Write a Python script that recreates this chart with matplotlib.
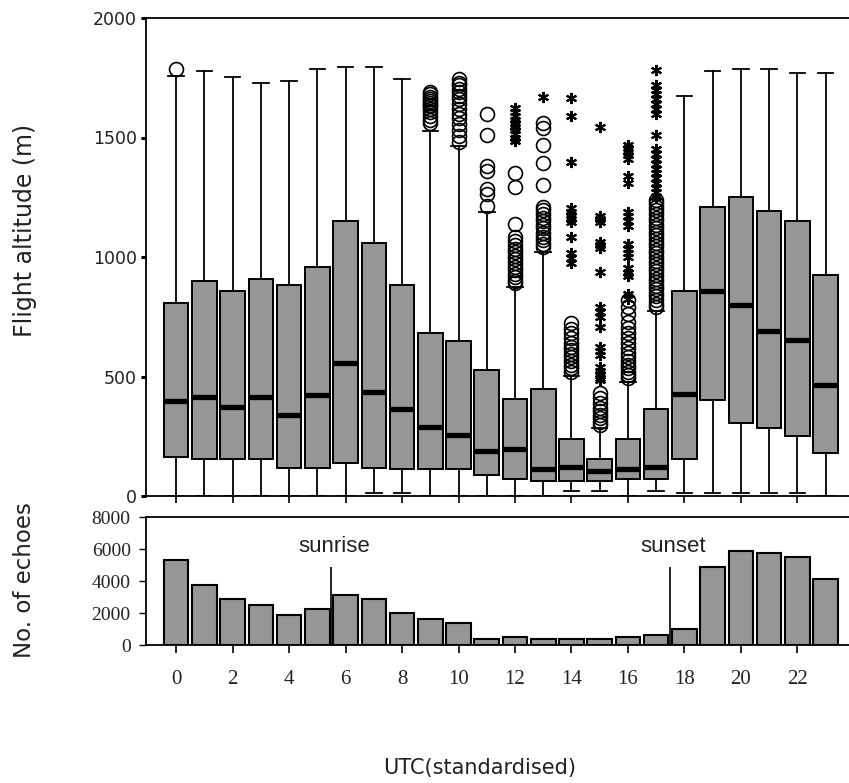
import matplotlib
matplotlib.use("Agg")
import matplotlib.pyplot as plt

# hourly flight altitude summary (m)
hours = list(range(24))
q1 = [162, 153, 153, 153, 118, 118, 139, 118, 112, 112, 112, 87,
      70, 64, 64, 64, 70, 70, 153, 402, 304, 286, 252, 179]
median = [397, 414, 372, 414, 339, 421, 556, 436, 363, 287, 254, 187,
          197, 112, 120, 106, 114, 120, 425, 859, 799, 692, 653, 464]
q3 = [809, 899, 856, 907, 883, 957, 1151, 1057, 883, 681, 649, 529,
      404, 446, 237, 153, 237, 363, 858, 1210, 1252, 1194, 1151, 925]
whisker_low = [0, 0, 0, 0, 0, 0, 0, 11, 11, 0, 0, 0,
               0, 0, 22, 22, 0, 22, 11, 11, 11, 11, 11, 0]
whisker_high = [1757, 1778, 1752, 1727, 1736, 1785, 1794, 1794, 1743, 1527, 1464, 1190,
                876, 1022, 502, 284, 478, 776, 1672, 1778, 1785, 1785, 1770, 1768]

# outliers (circles) and extreme values (stars) per hour
outliers = {
    0: [1785],
    9: [1692, 1680, 1670, 1660, 1652, 1645, 1638, 1630, 1620, 1605, 1590, 1575, 1562],
    10: [1745, 1730, 1718, 1705, 1690, 1675, 1660, 1640, 1620, 1600, 1580, 1555,
         1530, 1505, 1480],
    11: [1600, 1510, 1380, 1360, 1285, 1265, 1212],
    12: [1350, 1292, 1140, 1085, 1068, 1050, 1035, 1020, 1005, 990, 975, 960,
         945, 930, 915, 900, 890],
    13: [1560, 1540, 1470, 1392, 1300, 1210, 1195, 1180, 1165, 1150, 1135, 1120,
         1100, 1085, 1070, 1055, 1043],
    14: [722, 700, 680, 660, 640, 625, 610, 595, 580, 565, 550, 535, 520],
    15: [430, 410, 390, 370, 355, 340, 325, 310, 298],
    16: [820, 790, 760, 730, 705, 680, 660, 640, 620, 600, 580, 565, 550, 535,
         520, 505, 495],
    17: [1240, 1225, 1210, 1195, 1180, 1165, 1150, 1135, 1120, 1105, 1090, 1075,
         1060, 1045, 1030, 1015, 1000, 985, 970, 955, 940, 925, 910, 895, 880,
         865, 850, 835, 820, 805, 792],
}
extremes = {
    12: [1625, 1608, 1590, 1575, 1560, 1545, 1530, 1515, 1500, 1485],
    13: [1671],
    14: [1664, 1588, 1399, 1205, 1190, 1175, 1160, 1145, 1085, 1015, 995, 975],
    15: [1545, 1170, 1158, 1145, 1064, 1050, 1038, 938, 790, 770, 750, 708,
         625, 605, 590, 541, 525, 510, 495, 485],
    16: [1470, 1455, 1440, 1425, 1410, 1340, 1310, 1190, 1170, 1150, 1130, 1055,
         1035, 1015, 1000, 955, 935, 920, 845, 825],
    17: [1782, 1720, 1700, 1680, 1660, 1640, 1620, 1600, 1510, 1450, 1430, 1410,
         1390, 1370, 1350, 1330, 1310, 1290, 1270, 1250],
}

# number of radar echoes per hour
echoes = [5340, 3740, 2870, 2490, 1870, 2240, 3120, 2870, 1970, 1620, 1370, 370,
          520, 370, 350, 350, 500, 620, 1000, 4860, 5860, 5760, 5470, 4110]
sun_events = [5.5, 17.5]
sun_labels = ["sunrise", "sunset"]

alt_ticks = [0, 500, 1000, 1500, 2000]
echo_ticks = [0, 2000, 4000, 6000, 8000]
hour_ticks = list(range(0, 24, 2))

grey = "#969696"
ink = "#222222"
W, H = 849, 783
fig = plt.figure(figsize=(W / 100, H / 100), dpi=100)
ax = fig.add_axes([146 / W, 1 - 496 / H, 1 - 146 / W, 478 / H])
ax2 = fig.add_axes([146 / W, 1 - 645 / H, 1 - 146 / W, 128 / H])

stats = [dict(med=m, q1=a, q3=b, whislo=lo, whishi=hi, fliers=[])
         for m, a, b, lo, hi in zip(median, q1, q3, whisker_low, whisker_high)]
ax.bxp(stats, positions=hours, widths=0.87, capwidths=0.55, patch_artist=True,
       showfliers=False, manage_ticks=False,
       boxprops=dict(facecolor=grey, edgecolor="black", linewidth=1.4),
       medianprops=dict(color="black", linewidth=3.8, solid_capstyle="butt"),
       whiskerprops=dict(color="black", linewidth=1.3),
       capprops=dict(color="black", linewidth=1.3))

for h, vals in outliers.items():
    ax.plot([h] * len(vals), vals, "o", ms=10, mfc="none", mec="black", mew=1.2)
for h, vals in extremes.items():
    ax.plot([h] * len(vals), vals, ls="none", marker=(6, 2, 0), ms=8,
            mec="black", mew=1.5)

xlim = (-1.07, 23.83)
ax.set_xlim(*xlim)
ax.set_ylim(0, 2000)
ax.set_yticks(alt_ticks, labels=[str(v) for v in alt_ticks],
              family="DejaVu Sans", fontsize=12.5, color=ink)
ax.set_xticks(hour_ticks)
ax.set_xticklabels([])
ax.spines["right"].set_visible(False)
for s in ("left", "top", "bottom"):
    ax.spines[s].set_linewidth(1.3)
ax.tick_params(axis="y", direction="out", length=3.5, width=2.2, pad=3)
ax.tick_params(axis="x", direction="out", length=5, width=1.2)

ax2.bar(hours, echoes, width=0.87, color=grey, edgecolor="black", linewidth=1.5)
ax2.vlines(sun_events, 0, 4900, color="black", linewidth=1.2)
for x, label in zip(sun_events, sun_labels):
    ax2.text(x + 0.1, 6150, label, ha="center", va="center", fontsize=16,
             family="Liberation Sans", color=ink)
ax2.set_xlim(*xlim)
ax2.set_ylim(0, 8000)
ax2.set_yticks(echo_ticks, labels=[str(v) for v in echo_ticks],
               family="Liberation Serif", fontsize=14, color=ink)
ax2.set_xticks(hour_ticks, labels=[str(v) for v in hour_ticks],
               family="Liberation Serif", fontsize=15, color=ink)
ax2.spines["right"].set_visible(False)
for s in ("left", "top", "bottom"):
    ax2.spines[s].set_linewidth(1.3)
ax2.tick_params(axis="y", direction="out", length=5, width=1.0, pad=6)
ax2.tick_params(axis="x", direction="out", length=6, width=1.2, pad=12)

fig.text(25 / W, 1 - 230 / H, "Flight altitude (m)", rotation=90, ha="center",
         va="center", fontsize=17, family="DejaVu Sans", color=ink)
fig.text(25 / W, 1 - 580 / H, "No. of echoes", rotation=90, ha="center",
         va="center", fontsize=16.5, family="DejaVu Sans", color=ink)
fig.text(480 / W, 1 - 768 / H, "UTC(standardised)", ha="center", va="center",
         fontsize=15, family="DejaVu Sans", color=ink)

fig.savefig("out.png", dpi=100)
